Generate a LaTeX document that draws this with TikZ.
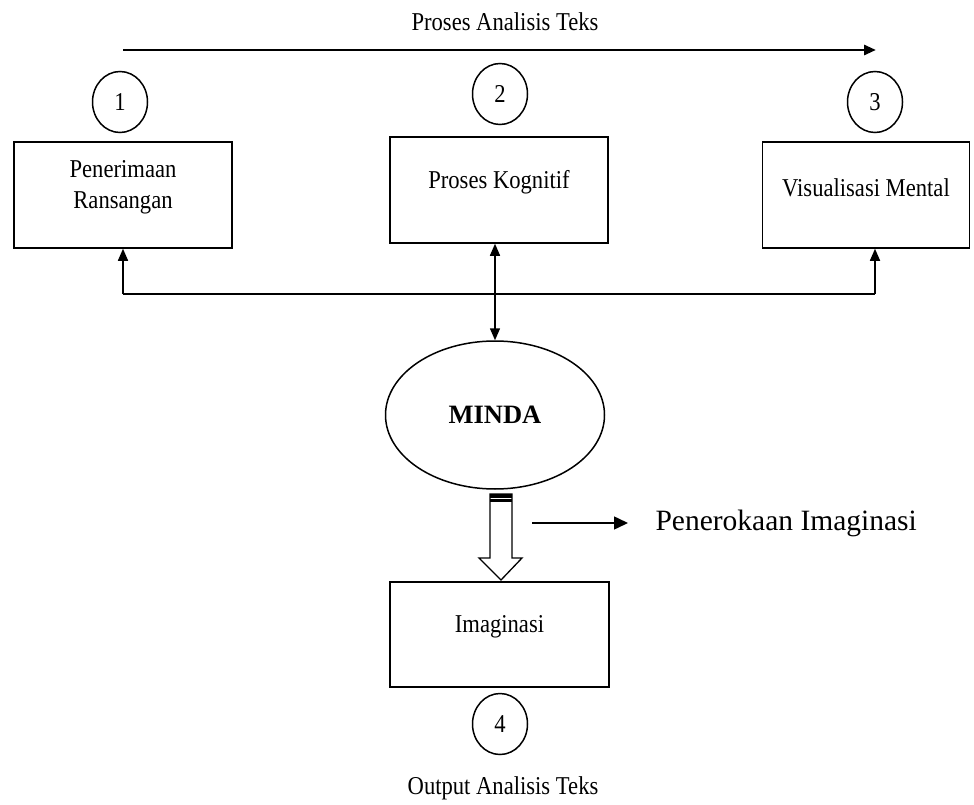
\documentclass[tikz,border=0pt]{standalone}
\usepackage{fontspec}
\setmainfont{Liberation Serif}
\newfontfamily\condfont[FakeStretch=0.88]{Liberation Serif}
\usetikzlibrary{positioning, arrows.meta, shapes.geometric}
\tikzset{%
  lbl/.style={font=\condfont\fontsize{25.7}{31}\selectfont, align=center},
  intext/.style={lbl, yshift=7.5pt},
  stepbox/.style={draw, line width=1.5pt, minimum width=218pt, minimum height=106pt},
  numb/.style={draw, ellipse, line width=1.5pt, minimum width=55pt, minimum height=61pt, inner sep=0pt, lbl},
  mind/.style={draw, ellipse, line width=1.5pt, minimum width=219pt, minimum height=148pt,
    font=\bfseries\fontsize{26.5}{30}\selectfont},
  arr/.style={line width=1.5pt, -{Triangle[length=12pt, width=10pt]}},
  arrb/.style={line width=1.5pt, {Triangle[length=12pt, width=10pt]}-{Triangle[length=12pt, width=10pt]}}
}

\begin{document}
\begin{tikzpicture}[x=1pt, y=-1pt]
        \useasboundingbox (0,0) rectangle (974,805);
        % upper row
        \node[lbl] (judul) at (505,22) {Proses Analisis Teks};
        \coordinate (pa) at (123,50);
        \coordinate (pb) at (876,50);
        \node[numb] (n1) at (120,102) {1};
        \node[numb] (n2) at (500,94)  {2};
        \node[numb] (n3) at (875,102) {3};
        \node[stepbox, label={[intext]center:Penerimaan\\Ransangan}] (ransang) at (123,195) {};
        \node[stepbox, label={[intext]center:Proses Kognitif}] (kognitif) at (499,190) {};
        \node[stepbox, minimum width=207pt, label={[intext]center:Visualisasi Mental}] (visual) at (866,195) {};
        % mind and output
        \node[mind] (minda) at (495,415) {MINDA};
        \node[stepbox, minimum width=219pt, minimum height=105pt, label={[intext]center:Imaginasi}] (imaj) at (499.5,634.5) {};
        \node[numb] (n4) at (500,724) {4};
        \node[lbl] (output) at (503,788) {Output Analisis Teks};
        \node[anchor=west, font=\fontsize{29.5}{34}\selectfont] (teroka) at (652,523) {Penerokaan Imaginasi};
        \coordinate (j1) at (123,294);
        \coordinate (j3) at (875,294);
        \coordinate (hs) at (501,494);
        \coordinate (pe) at (532,523);
        % connectors
        \draw[line width=2.8pt, -{Triangle[length=12pt, width=10pt]}] (pa) -- (pb);
        \draw[line width=1.5pt] (j1) -- (j3);
        \draw[arr] (j1) -- (ransang.south);
        \draw[arr] (j3) -- (j3 |- visual.south);
        \draw[arrb] (minda.north |- kognitif.south) -- (minda.north);
        \draw[line width=1.5pt, -{Triangle[length=14pt, width=13pt]}] (pe) -- ([xshift=-24pt]teroka.west);
        % hollow arrow
        \draw[line width=1.3pt, fill=white] (hs) ++(-11,0) -- ++(0,64) -- ++(-11,0) -- ++(22,22)
          -- ++(21,-22) -- ++(-10,0) -- ++(0,-64) -- cycle;
        \fill (hs) ++(-11,0) rectangle ++(22,3.5);
        \fill (hs) ++(-11,5.3) rectangle ++(22,3);
\end{tikzpicture}
\end{document}
